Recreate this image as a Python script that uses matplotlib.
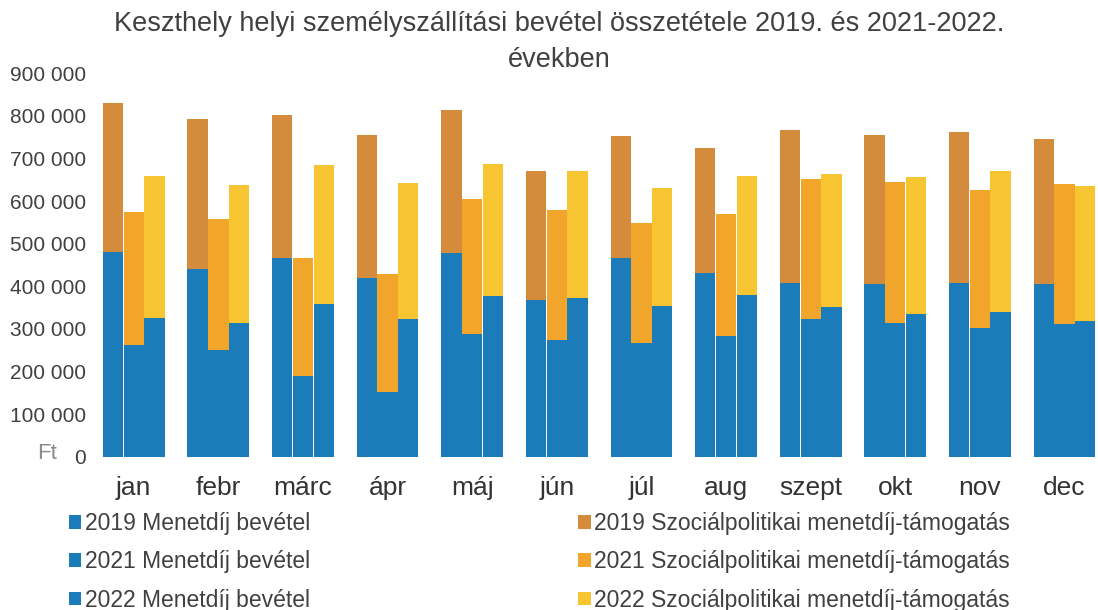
import numpy as np
import matplotlib
matplotlib.use("Agg")
import matplotlib.pyplot as plt

# ── Adatok (Ft) ─────────────────────────────────────────
months = ["jan", "febr", "márc", "ápr", "máj", "jún",
          "júl", "aug", "szept", "okt", "nov", "dec"]

fare_2019 = [481000, 440000, 466000, 419000, 479000, 368000,
             466000, 432000, 407000, 405000, 407000, 405000]
fare_2021 = [262000, 251000, 190000, 153000, 288000, 274000,
             268000, 284000, 323000, 315000, 302000, 311000]
fare_2022 = [326000, 313000, 358000, 324000, 377000, 373000,
             354000, 380000, 351000, 334000, 341000, 319000]

total_2019 = [829000, 792000, 803000, 755000, 813000, 671000,
              753000, 725000, 766000, 755000, 762000, 745000]
total_2021 = [575000, 558000, 466000, 430000, 606000, 579000,
              548000, 570000, 653000, 645000, 627000, 639000]
total_2022 = [658000, 637000, 684000, 643000, 687000, 670000,
              630000, 659000, 663000, 657000, 671000, 636000]

yticks = [0, 100000, 200000, 300000, 400000, 500000,
          600000, 700000, 800000, 900000]
ytick_labels = ["0", "100 000", "200 000", "300 000", "400 000", "500 000",
                "600 000", "700 000", "800 000", "900 000"]

BLUE = "#1b7cb9"
SOC_COLORS = ["#d58b3c", "#f2a52b", "#f7c531"]
TXT = "#404040"

plt.rcParams["font.family"] = ["Liberation Sans", "DejaVu Sans"]

fig = plt.figure(figsize=(10.98, 6.10), dpi=100)
ax = fig.add_axes([0.091, 0.251, 0.907, 0.629])

x = np.arange(len(months))
w = 0.24
years = ["2019", "2021", "2022"]
fares = [fare_2019, fare_2021, fare_2022]
totals = [total_2019, total_2021, total_2022]

fare_handles, soc_handles = [], []
for k, (yr, fare, tot) in enumerate(zip(years, fares, totals)):
    pos = x + (k - 1) * 0.245
    fare = np.array(fare)
    soc = np.array(tot) - fare
    b1 = ax.bar(pos, fare, w, color=BLUE, label=f"{yr} Menetdíj bevétel")
    b2 = ax.bar(pos, soc, w, bottom=fare, color=SOC_COLORS[k],
                label=f"{yr} Szociálpolitikai menetdíj-támogatás")
    fare_handles.append(b1)
    soc_handles.append(b2)

ax.set_xlim(-0.40, 11.37)
ax.set_ylim(0, 900000)
ax.set_xticks(x)
ax.set_xticklabels(months, fontsize=19, color="#333333")
ax.set_yticks(yticks)
ax.set_yticklabels(ytick_labels, fontsize=15, color=TXT)
ax.tick_params(length=0)
ax.tick_params(axis="x", pad=14)
ax.tick_params(axis="y", pad=10)
for s in ax.spines.values():
    s.set_visible(False)

fig.text(0.034, 0.248, "Ft", fontsize=16, color="#8a8a8a")

fig.suptitle("Keszthely helyi személyszállítási bevétel összetétele 2019. és 2021-2022.\névekben",
             x=0.509, y=0.982, fontsize=19.5, color=TXT, linespacing=1.5)

fig.legend(fare_handles + soc_handles,
           [h.get_label() for h in fare_handles + soc_handles],
           ncol=2, loc="upper left", bbox_to_anchor=(0.052, 0.179),
           frameon=False, fontsize=16.5, labelcolor=TXT,
           handlelength=0.55, handleheight=0.55, handletextpad=0.15,
           labelspacing=0.66, columnspacing=11.7, borderpad=0)

fig.savefig("out.png", dpi=100)
